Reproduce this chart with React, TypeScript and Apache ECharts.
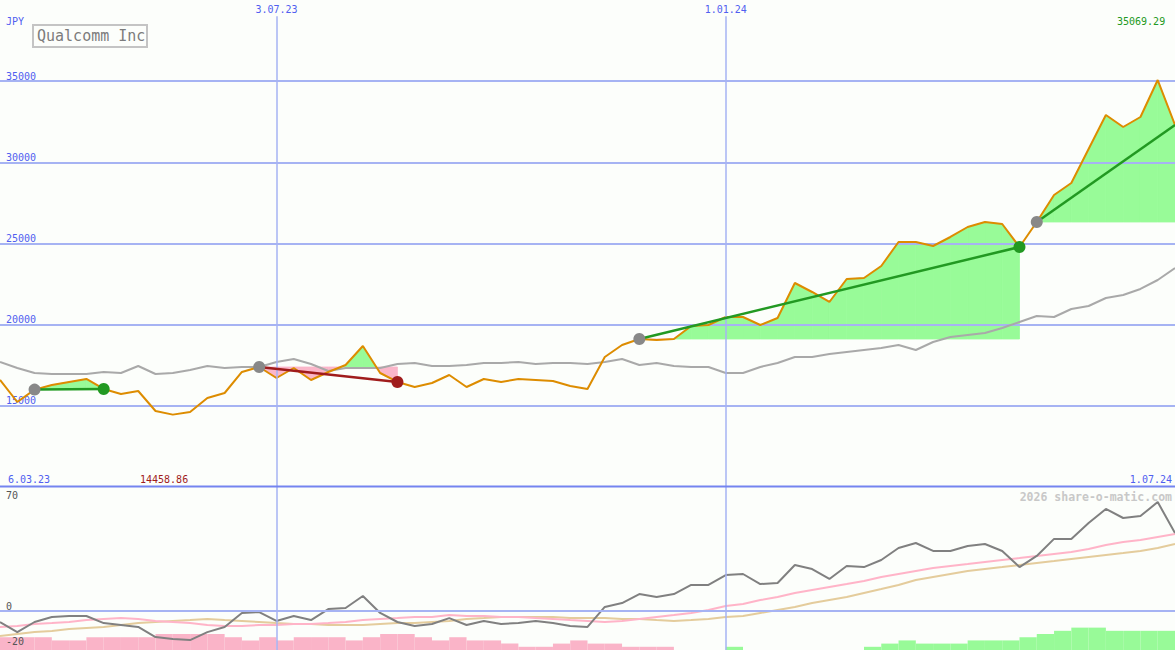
import { useEffect, useRef } from "react";
import * as echarts from "echarts";

const dates = [
  "13.03.23", "20.03.23", "27.03.23", "3.04.23", "10.04.23", "17.04.23", "24.04.23",
  "1.05.23", "8.05.23", "15.05.23", "22.05.23", "29.05.23", "5.06.23", "12.06.23",
  "19.06.23", "26.06.23", "3.07.23", "10.07.23", "17.07.23", "24.07.23", "31.07.23",
  "7.08.23", "14.08.23", "21.08.23", "28.08.23", "4.09.23", "11.09.23", "18.09.23",
  "25.09.23", "2.10.23", "9.10.23", "16.10.23", "23.10.23", "30.10.23", "6.11.23",
  "13.11.23", "20.11.23", "27.11.23", "4.12.23", "11.12.23", "18.12.23", "25.12.23",
  "1.01.24", "8.01.24", "15.01.24", "22.01.24", "29.01.24", "5.02.24", "12.02.24",
  "19.02.24", "26.02.24", "4.03.24", "11.03.24", "18.03.24", "25.03.24", "1.04.24",
  "8.04.24", "15.04.24", "22.04.24", "29.04.24", "6.05.24", "13.05.24", "20.05.24",
  "27.05.24", "3.06.24", "10.06.24", "17.06.24", "24.06.24", "1.07.24",
];
const rangeStartLabel = "6.03.23";
const markedDates = ["3.07.23", "1.01.24"];

const price = [
  16592, 15236, 16000, 16284, 16469, 16654, 16040, 15730, 15914, 14682,
  14458.86, 14621, 15483, 15791, 17085, 17393, 16715, 17331, 16592, 17085,
  17516, 18686, 17023, 16469, 16161, 16407, 16900, 16161, 16654, 16469,
  16654, 16592, 16530, 16222, 16038, 18009, 18748, 19118, 19056, 19118,
  19918, 19980, 20473, 20473, 19980, 20411, 22567, 22013, 21397, 22814,
  22875, 23614, 25093, 25093, 24846, 25401, 26017, 26325, 26202, 24785,
  26325, 27988, 28727, 30822, 32916, 32177, 32793, 35069.29, 32300,
];
const average = [
  17701, 17331, 17023, 16962, 16962, 16962, 17085, 17023, 17454, 16962,
  17023, 17208, 17454, 17331, 17393, 17393, 17701, 17886, 17578, 17146,
  17331, 17331, 17331, 17578, 17639, 17454, 17454, 17516, 17639, 17639,
  17701, 17578, 17639, 17639, 17578, 17701, 17886, 17516, 17639, 17454,
  17393, 17393, 17023, 17023, 17393, 17639, 18009, 18009, 18194, 18317,
  18440, 18563, 18748, 18440, 18933, 19241, 19364, 19487, 19795, 20165,
  20534, 20473, 20966, 21150, 21643, 21828, 22198, 22752, 23491,
];
const momentum = [
  -6.2, -11.9, -6.2, -3.4, -2.8, -2.8, -6.8, -7.9, -9.0, -14.7,
  -15.8, -16.4, -11.9, -9.0, -1.1, -0.6, -5.6, -2.8, -5.1, 1.1,
  1.7, 8.5, -1.1, -6.2, -8.5, -7.3, -4.0, -7.9, -5.6, -7.3,
  -6.8, -5.6, -6.8, -8.5, -9.0, 2.3, 4.5, 9.6, 7.9, 9.6,
  14.7, 14.7, 20.3, 20.9, 15.2, 15.8, 26.0, 23.7, 18.1, 25.4,
  24.8, 28.8, 35.6, 38.4, 33.9, 33.9, 36.7, 37.8, 33.9, 24.8,
  31.1, 40.7, 40.7, 49.7, 57.6, 52.5, 53.6, 61.5, 44.0,
];
const signalFast = [
  -9.0, -8.5, -7.3, -6.8, -6.2, -5.1, -4.5, -4.0, -4.5, -5.6,
  -6.2, -6.8, -7.9, -8.5, -8.5, -7.9, -7.9, -7.3, -7.3, -6.8,
  -6.2, -5.1, -4.5, -4.0, -3.4, -3.4, -2.3, -2.8, -2.8, -3.4,
  -3.4, -4.0, -4.5, -5.1, -5.6, -6.2, -5.6, -4.5, -3.4, -2.3,
  -1.1, 0.6, 2.8, 4.0, 6.2, 7.9, 10.2, 11.9, 13.6, 15.2,
  16.9, 19.2, 20.9, 22.6, 24.3, 25.4, 26.5, 27.7, 28.8, 29.9,
  31.1, 32.2, 33.3, 35.0, 37.3, 39.0, 40.1, 41.8, 43.5,
];
const signalSlow = [
  -14.1, -13.0, -11.9, -11.3, -10.2, -9.6, -9.0, -7.9, -6.8, -6.2,
  -5.6, -5.1, -4.5, -5.1, -5.6, -6.2, -6.8, -7.3, -7.3, -7.9,
  -7.9, -7.9, -7.3, -6.8, -6.8, -6.2, -5.6, -4.5, -4.0, -3.4,
  -3.4, -3.4, -3.4, -4.0, -4.0, -4.0, -4.5, -4.5, -5.1, -5.6,
  -5.1, -4.5, -3.4, -2.8, -1.1, 0.6, 2.3, 4.5, 6.2, 7.9,
  10.2, 12.4, 14.7, 17.5, 19.2, 20.9, 22.6, 23.7, 24.8, 26.0,
  27.1, 28.2, 29.4, 30.5, 31.6, 32.7, 33.9, 35.6, 37.8,
];
const histogram = [
  -4, -4, -4, -3, -3, -4, -4, -4, -4, -5,
  -5, -5, -5, -4, -3, -4, -3, -4, -4, -4,
  -3, -4, -5, -5, -4, -3, -4, -3, -3, -2,
  -1, -1, -2, -3, -2, -2, -1, -1, -1, 0,
  0, 0, 1, 0, 0, 0, 0, 0, 0, 0,
  1, 2, 3, 2, 2, 2, 3, 3, 3, 4,
  5, 6, 7, 7, 6, 6, 6, 6,
];
const tradeEntry = [2, 15, 37, 60];
const tradeExit = [6, 23, 59, 68];
const tradeClosed = [true, true, true, false];

const priceTicks = [15000, 20000, 25000, 30000, 35000];
const lowerTicks = [-20, 0];
const lowerTopTicks = [70];
const currency = "JPY";
const title = "Qualcomm Inc";
const watermark = "2026 share-o-matic.com";

export default function App() {
  const ref = useRef<HTMLDivElement>(null);
  useEffect(() => {
    const chart = echarts.init(ref.current as HTMLDivElement, null, { renderer: "svg" });
    const mono = '"DejaVu Sans Mono", monospace';
    const blue = "#5060f0";
    const gridBlue = "#a6b3f3";
    const fillGreen = "#98fb98";
    const fillPink = "#fbb6c9";
    const tradeGreen = "#229922";
    const tradeRed = "#a01c1c";
    const winColor = (t: number) =>
      price[tradeExit[t]] >= price[tradeEntry[t]] ? tradeGreen : tradeRed;
    const maxVal = Math.max(...price);
    const minVal = Math.min(...price);
    const plain = (v: number) => String(v);

    const fillSeries: any = {
      type: "custom",
      xAxisIndex: 0,
      yAxisIndex: 0,
      z: 1,
      silent: true,
      data: tradeEntry.map((s, t) => [s, price[s], t]),
      encode: { x: 0, y: 1 },
      renderItem: (params: any, api: any) => {
        const t = params.dataIndex;
        const s = tradeEntry[t];
        const e = tradeExit[t];
        const base = price[s];
        const children: any[] = [];
        const poly = (pts: number[][], fill: string) =>
          children.push({
            type: "polygon",
            shape: { points: pts },
            style: { fill, stroke: fill, lineWidth: 0.8 },
          });
        for (let i = s; i < e; i++) {
          const a = price[i] - base;
          const b = price[i + 1] - base;
          const p0 = api.coord([i, price[i]]);
          const p1 = api.coord([i + 1, price[i + 1]]);
          const b0 = api.coord([i, base]);
          const b1 = api.coord([i + 1, base]);
          if (a >= 0 && b >= 0) poly([p0, p1, b1, b0], fillGreen);
          else if (a <= 0 && b <= 0) poly([p0, p1, b1, b0], fillPink);
          else {
            const f = a / (a - b);
            const m = [b0[0] + f * (b1[0] - b0[0]), b0[1]];
            poly([p0, m, b0], a > 0 ? fillGreen : fillPink);
            poly([m, p1, b1], b > 0 ? fillGreen : fillPink);
          }
        }
        return { type: "group", children };
      },
    };

    const tradeLines = tradeEntry.map((s, t) => ({
      type: "line",
      xAxisIndex: 0,
      yAxisIndex: 0,
      z: 5,
      silent: true,
      symbol: "none",
      data: [
        [s, price[s]],
        [tradeExit[t], price[tradeExit[t]]],
      ],
      lineStyle: { color: winColor(t), width: 2.5 },
    }));

    const lowerLabel = {
      inside: true,
      margin: 6,
      color: "#555555",
      fontFamily: mono,
      fontSize: 10,
      formatter: plain,
    };

    const option: any = {
      animation: false,
      backgroundColor: "#fcfefb",
      grid: [
        { left: 0, right: 0, top: 0, height: 487 },
        { left: 0, right: 0, top: 487, height: 163 },
        { left: 0, right: 0, top: 487, height: 163 },
      ],
      xAxis: [
        {
          gridIndex: 0,
          type: "category",
          data: dates,
          boundaryGap: false,
          position: "top",
          axisLine: { show: false },
          axisTick: { show: false },
          splitLine: { show: false },
          axisLabel: {
            inside: true,
            margin: 4,
            interval: (_i: number, v: string) => markedDates.includes(v),
            color: blue,
            fontFamily: mono,
            fontSize: 10,
          },
        },
        {
          gridIndex: 1,
          type: "category",
          data: dates,
          boundaryGap: false,
          show: false,
        },
        {
          gridIndex: 2,
          type: "category",
          data: dates.slice(0, histogram.length),
          boundaryGap: true,
          show: false,
        },
      ],
      yAxis: [
        {
          gridIndex: 0,
          type: "value",
          min: 10000,
          max: 40000,
          interval: 5000,
          z: 2,
          axisLine: { show: false },
          axisTick: { show: false },
          splitLine: {
            show: true,
            showMinLine: false,
            showMaxLine: false,
            lineStyle: { color: gridBlue, width: 2 },
          },
          axisLabel: {
            inside: true,
            customValues: priceTicks,
            verticalAlign: "bottom",
            margin: 6,
            color: blue,
            fontFamily: mono,
            fontSize: 10,
            formatter: plain,
          },
        },
        {
          gridIndex: 1,
          type: "value",
          position: "left",
          offset: 0,
          min: -22,
          max: 70,
          z: 10,
          axisLine: { show: false },
          axisTick: { show: false },
          splitLine: { show: false },
          axisLabel: { ...lowerLabel, customValues: lowerTicks, verticalAlign: "bottom" },
        },
        {
          gridIndex: 1,
          type: "value",
          position: "left",
          offset: 0,
          min: -22,
          max: 70,
          z: 10,
          axisLine: { show: false },
          axisTick: { show: false },
          splitLine: { show: false },
          axisLabel: {
            ...lowerLabel,
            customValues: lowerTopTicks,
            verticalAlign: "top",
            padding: [3, 0, 0, 0],
          },
        },
        { gridIndex: 2, type: "value", min: 0, max: 51, show: false },
      ],
      series: [
        {
          type: "line",
          xAxisIndex: 0,
          yAxisIndex: 0,
          z: 0,
          silent: true,
          symbol: "none",
          data: dates.map(() => null),
          markLine: {
            silent: true,
            symbol: ["none", "none"],
            label: { show: false },
            lineStyle: { color: gridBlue, width: 1.5, type: "solid" },
            data: markedDates.map((d) => [
              { coord: [d, 39000] },
              { coord: [d, 10000] },
            ]),
          },
        },
        fillSeries,
        {
          type: "line",
          xAxisIndex: 0,
          yAxisIndex: 0,
          z: 3,
          silent: true,
          symbol: "none",
          data: average,
          lineStyle: { color: "#a9a9a9", width: 2 },
        },
        {
          type: "line",
          xAxisIndex: 0,
          yAxisIndex: 0,
          z: 4,
          silent: true,
          symbol: "none",
          data: price,
          lineStyle: { color: "#dd8c00", width: 2 },
        },
        ...tradeLines,
        {
          type: "scatter",
          xAxisIndex: 0,
          yAxisIndex: 0,
          z: 6,
          silent: true,
          symbolSize: 12,
          data: tradeEntry.map((s) => [s, price[s]]),
          itemStyle: { color: "#888888", opacity: 1 },
        },
        {
          type: "scatter",
          xAxisIndex: 0,
          yAxisIndex: 0,
          z: 6,
          silent: true,
          symbolSize: 12,
          data: tradeExit
            .map((e, t) => ({ e, t }))
            .filter(({ t }) => tradeClosed[t])
            .map(({ e, t }) => ({
              value: [e, price[e]],
              itemStyle: { color: winColor(t), opacity: 1 },
            })),
        },
        {
          type: "line",
          xAxisIndex: 1,
          yAxisIndex: 1,
          z: 0,
          silent: true,
          symbol: "none",
          data: dates.map(() => null),
          markLine: {
            silent: true,
            symbol: ["none", "none"],
            label: { show: false },
            lineStyle: { color: gridBlue, width: 1.5, type: "solid" },
            data: [
              { yAxis: 0, lineStyle: { color: gridBlue, width: 2, type: "solid" } },
              ...markedDates.map((d) => ({ xAxis: d })),
            ],
          },
        },
        {
          type: "bar",
          xAxisIndex: 2,
          yAxisIndex: 3,
          z: 1,
          silent: true,
          barWidth: "100%",
          barGap: "0%",
          data: histogram.map((v) => ({
            value: Math.abs(v),
            itemStyle: { color: v < 0 ? "#fab4c8" : "#98fa98" },
          })),
        },
        {
          type: "line",
          xAxisIndex: 1,
          yAxisIndex: 1,
          z: 3,
          silent: true,
          symbol: "none",
          data: signalSlow,
          lineStyle: { color: "#e4cc9c", width: 2 },
        },
        {
          type: "line",
          xAxisIndex: 1,
          yAxisIndex: 1,
          z: 3,
          silent: true,
          symbol: "none",
          data: signalFast,
          lineStyle: { color: "#ffb4c8", width: 2 },
        },
        {
          type: "line",
          xAxisIndex: 1,
          yAxisIndex: 1,
          z: 4,
          silent: true,
          symbol: "none",
          data: momentum,
          lineStyle: { color: "#808080", width: 2 },
        },
      ],
      graphic: [
        {
          type: "line",
          z: 50,
          silent: true,
          shape: { x1: 0, y1: 486.5, x2: 1175, y2: 486.5 },
          style: { stroke: "#7484f0", lineWidth: 2 },
        },
        {
          type: "text",
          z: 50,
          x: 6,
          y: 21,
          style: { text: currency, fill: blue, font: `10px ${mono}`, verticalAlign: "middle" },
        },
        {
          type: "rect",
          z: 50,
          shape: { x: 33, y: 25, width: 114, height: 22 },
          style: { fill: "none", stroke: "#c4c4c4", lineWidth: 2 },
        },
        {
          type: "text",
          z: 51,
          x: 37,
          y: 36,
          style: { text: title, fill: "#7c7c7c", font: `15px ${mono}`, verticalAlign: "middle" },
        },
        {
          type: "text",
          z: 50,
          x: 1117,
          y: 21,
          style: {
            text: maxVal.toFixed(2),
            fill: tradeGreen,
            font: `10px ${mono}`,
            verticalAlign: "middle",
          },
        },
        {
          type: "text",
          z: 50,
          x: 140,
          y: 479,
          style: {
            text: minVal.toFixed(2),
            fill: tradeRed,
            font: `10px ${mono}`,
            verticalAlign: "middle",
          },
        },
        {
          type: "text",
          z: 50,
          x: 8,
          y: 479,
          style: { text: rangeStartLabel, fill: blue, font: `10px ${mono}`, verticalAlign: "middle" },
        },
        {
          type: "text",
          z: 50,
          x: 1172,
          y: 479,
          style: {
            text: dates[dates.length - 1],
            fill: blue,
            font: `10px ${mono}`,
            align: "right",
            verticalAlign: "middle",
          },
        },
        {
          type: "text",
          z: 50,
          x: 1172,
          y: 497,
          style: {
            text: watermark,
            fill: "#c8c8c8",
            font: `bold 11.5px ${mono}`,
            align: "right",
            verticalAlign: "middle",
          },
        },
      ],
    };
    chart.setOption(option);
    return () => chart.dispose();
  }, []);
  return (
    <div
      ref={ref}
      style={{ position: "absolute", left: 0, top: 0, width: 1175, height: 650 }}
    />
  );
}
